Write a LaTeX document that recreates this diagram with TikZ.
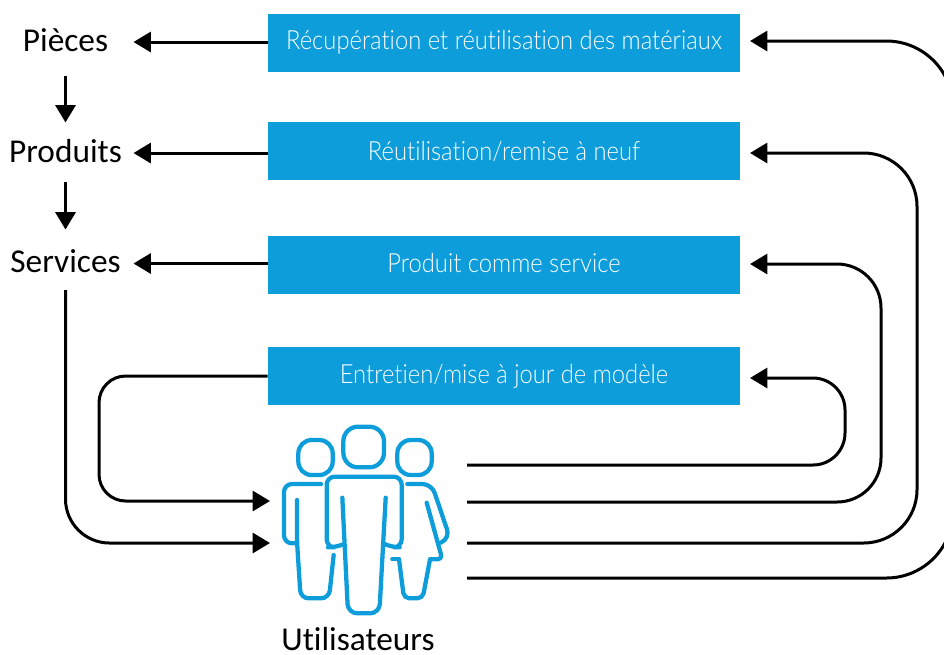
\documentclass[tikz,border=0pt]{standalone}
\usepackage{fontspec}
\setmainfont[Ligatures=NoCommon]{Carlito}
\newfontfamily\boxfont[Ligatures=NoCommon,FakeStretch=0.9]{Lato Light}
\usetikzlibrary{arrows.meta}

\definecolor{hpblue}{HTML}{0D9DDB}

\tikzset{
    bluebox/.style={fill=hpblue, text=white, minimum width=354pt, minimum height=43.5pt, inner sep=0pt, font=\boxfont\fontsize{19.8}{22}\selectfont},
    sidelabel/.style={minimum width=97.5pt, minimum height=46.5pt, inner sep=0pt, outer sep=2.25pt, text height=13.5pt, text depth=0pt, font=\fontsize{25}{28}\selectfont},
    flow/.style={line width=2.25pt, -{Triangle[length=13pt,width=15pt]}},
    person/.style={draw=hpblue, line width=3.2pt, line cap=round, line join=round}
}

\begin{document}
\begin{tikzpicture}[x=0.75pt, y=-0.75pt]

    \useasboundingbox (0,0) rectangle (944,654);
    \clip (0,0) rectangle (944,654);

    % The four blue boxes
    \node[bluebox] (recup) at (504,42.5) {Récupération et réutilisation des matériaux};
    \node[bluebox] (reuse) at (504,151) {Réutilisation/remise à neuf};
    \node[bluebox] (service) at (504,265) {\raisebox{3pt}{Produit comme service}};
    \node[bluebox] (entretien) at (504,376) {\raisebox{1.5pt}{Entretien/mise à jour de modèle}};

    % The labels on the left
    \node[sidelabel] (pieces) at (65.5,42) {Pièces};
    \node[sidelabel] (produits) at (65.5,153) {Produits};
    \node[sidelabel] (services) at (65.5,263.5) {Services};
    \node[anchor=base, inner sep=0pt, text depth=0pt, font=\fontsize{25}{28}\selectfont] (users) at (358,650.5) {Utilisateurs};

    % Arrows between the labels and from the boxes
    \draw[flow, shorten >=-2.6pt] (pieces) -- (produits);
    \draw[flow, shorten <=-3.4pt] (produits) -- (services);
    \draw[flow] (recup.west |- pieces) -- (pieces);
    \draw[flow] (reuse.west |- produits) -- (produits);
    \draw[flow] (service.west |- services) -- (services);

    % Free ends beside the people
    \coordinate (outA) at (467,465);
    \coordinate (outB) at (467,502);
    \coordinate (outC) at (467,543);
    \coordinate (outD) at (467,578);
    \coordinate (inA) at (270,501);
    \coordinate (inB) at (270,543);

    % Return lines on the right
    \draw[flow, rounded corners=24pt] (outA) -- (845,465) -- (845,378) -- (750,378);
    \draw[flow, rounded corners=33pt] (outB) -- (881,502) -- (881,264) -- (750,264);
    \draw[flow, rounded corners=40pt] (outC) -- (917,543) -- (917,153) -- (750,153);
    \draw[flow, rounded corners=50pt] (outD) -- (953,578) -- (953,41) -- (750,41);

    % Lines on the left
    \draw[flow, rounded corners=20pt] (entretien.west) -- (99,376) -- (99,501) -- (inA);
    \draw[flow, rounded corners=33pt, shorten <=-5.6pt] (services.south) -- (services.south |- inB) -- (inB);

    % The three people, in the pixels of a 3x crop
    \begin{scope}[shift={(260,410)}, x=0.25pt, y=-0.25pt]
        \draw[person, rounded corners=11pt] (250,50) rectangle (372,172);
        \draw[person, rounded corners=10pt] (115,90) rectangle (218,195);
        \draw[person, rounded corners=10pt] (412,90) rectangle (515,195);
        % middle one
        \draw[person, rounded corners=6pt] (245,405) -- (228,412) -- (200,412) -- (200,200) -- (425,200) -- (425,412) -- (395,412) -- (380,405);
        \draw[person, rounded corners=7pt] (247,263) -- (264,610) -- (358,610) -- (377,263);
        % left one
        \draw[person, rounded corners=6pt] (183,222) -- (72,222) -- (72,400) -- (108,400);
        \draw[person, rounded corners=6pt] (111,270) -- (111,395) -- (122,565) -- (207,565) -- (221,435);
        % right one
        \draw[person, rounded corners=7pt] (442,222) -- (515,222) -- (570,385) -- (542,398);
        \draw[person, rounded corners=3.5pt] (500,278) -- (547,448) -- (510,448);
        \draw[person, rounded corners=4pt] (510,448) -- (488,565) -- (432,565) -- (417,448);
        \draw[person] (417,448) -- (397,448);
    \end{scope}

\end{tikzpicture}
\end{document}
